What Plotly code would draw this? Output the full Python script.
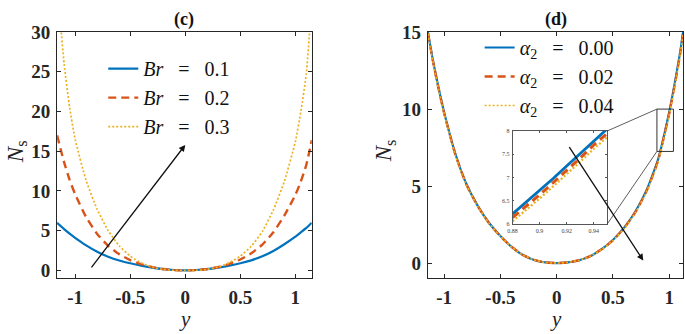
import plotly.graph_objects as go

# ---------------- data: panel (c) ----------------
y_c = [-1.164, -1.1, -1.05, -1.0, -0.9, -0.8, -0.7, -0.6, -0.5, -0.4, -0.3, -0.2, -0.1, 0.0,
       0.1, 0.2, 0.3, 0.4, 0.5, 0.6, 0.7, 0.8, 0.9, 1.0, 1.05, 1.1, 1.149]
ns_br01 = [6.0, 5.2, 4.62, 4.1, 3.15, 2.35, 1.72, 1.25, 0.9, 0.6, 0.36, 0.17, 0.05, 0.0,
           0.05, 0.17, 0.36, 0.6, 0.9, 1.27, 1.78, 2.45, 3.3, 4.25, 4.8, 5.35, 6.0]
ns_br02 = [17.0, 13.6, 11.4, 9.6, 6.7, 4.6, 3.1, 2.05, 1.3, 0.78, 0.42, 0.18, 0.04, 0.0,
           0.04, 0.18, 0.43, 0.82, 1.38, 2.15, 3.25, 4.8, 6.9, 9.5, 11.2, 13.3, 16.4]
ns_br03 = [36.0, 26.0, 20.5, 16.5, 11.3, 7.7, 5.0, 3.1, 1.8, 0.95, 0.42, 0.13, 0.02, 0.0,
           0.02, 0.13, 0.43, 0.97, 1.8, 3.05, 4.9, 7.6, 11.2, 16.2, 20.0, 24.8, 34.0]
labels_c = ["<i>Br</i>\u2002\u2005=\u2002\u20050.1", "<i>Br</i>\u2002\u2005=\u2002\u20050.2",
            "<i>Br</i>\u2002\u2005=\u2002\u20050.3"]

# ---------------- data: panel (d) ----------------
y_d = [-1.144, -1.1, -1.05, -1.0, -0.9, -0.8, -0.7, -0.6, -0.5, -0.4, -0.3, -0.2, -0.1, 0.0,
       0.1, 0.2, 0.3, 0.4, 0.5, 0.6, 0.7, 0.8, 0.9, 1.0, 1.05, 1.1, 1.123]
ns_a000 = [15.0, 13.2, 11.4, 9.8, 7.1, 5.1, 3.7, 2.6, 1.75, 1.05, 0.52, 0.2, 0.04, 0.0,
           0.04, 0.18, 0.45, 0.9, 1.5, 2.3, 3.35, 4.75, 6.7, 9.8, 11.7, 13.8, 15.0]
ns_a002 = [14.95, 13.15, 11.35, 9.75, 7.05, 5.07, 3.68, 2.59, 1.74, 1.05, 0.52, 0.2, 0.04, 0.0,
           0.04, 0.18, 0.45, 0.89, 1.48, 2.27, 3.31, 4.69, 6.62, 9.7, 11.6, 13.7, 14.9]
ns_a004 = [14.9, 13.1, 11.3, 9.7, 7.0, 5.04, 3.66, 2.58, 1.73, 1.04, 0.52, 0.2, 0.04, 0.0,
           0.04, 0.18, 0.44, 0.88, 1.46, 2.24, 3.27, 4.63, 6.54, 9.6, 11.5, 13.6, 14.8]
labels_d = ["<i>α</i><sub>2</sub>\u2002\u2005=\u2002\u20050.00",
            "<i>α</i><sub>2</sub>\u2002\u2005=\u2002\u20050.02",
            "<i>α</i><sub>2</sub>\u2002\u2005=\u2002\u20050.04"]

# inset (zoom) data
y_in = [0.88, 0.89, 0.90, 0.91, 0.92, 0.93, 0.94, 0.95]
in_a000 = [6.22, 6.47, 6.72, 6.98, 7.25, 7.52, 7.8, 8.05]
in_a002 = [6.14, 6.38, 6.63, 6.89, 7.15, 7.42, 7.7, 7.95]
in_a004 = [6.06, 6.30, 6.55, 6.81, 7.07, 7.34, 7.62, 7.87]

x_ticks = [-1, -0.5, 0, 0.5, 1]
x_ticktext = ["-1", "-0.5", "0", "0.5", "1"]

colors = ["#0072BD", "#D95319", "#EDB120"]
dashes = ["solid", "8px,5px", "2px,2px"]
widths = [2.2, 2.4, 1.7]

fig = go.Figure()

for ys, lab, c, d, w in zip([ns_br01, ns_br02, ns_br03], labels_c, colors, dashes, widths):
    fig.add_trace(go.Scatter(x=y_c, y=ys, mode="lines", name=lab,
                             line=dict(color=c, dash=d, width=w, shape="spline", smoothing=0.5),
                             xaxis="x", yaxis="y", legend="legend"))

for ys, lab, c, d, w in zip([ns_a000, ns_a002, ns_a004], labels_d, colors, dashes, widths):
    fig.add_trace(go.Scatter(x=y_d, y=ys, mode="lines", name=lab,
                             line=dict(color=c, dash=d, width=w, shape="spline", smoothing=0.5),
                             xaxis="x2", yaxis="y2", legend="legend2"))

for ys, c, d, w in zip([in_a000, in_a002, in_a004], colors, dashes, widths):
    fig.add_trace(go.Scatter(x=y_in, y=ys, mode="lines", showlegend=False,
                             line=dict(color=c, dash=d, width=w + 0.6),
                             xaxis="x3", yaxis="y3"))

axcol = "#262626"
tickfont = dict(family="Liberation Serif", size=19, color=axcol, weight="bold")
common = dict(showline=True, linecolor=axcol, linewidth=1, mirror="ticks", ticks="inside",
              ticklen=4, tickcolor=axcol, showgrid=False, zeroline=False, tickfont=tickfont)
inset_common = dict(showline=True, linecolor="#555555", linewidth=0.8, mirror="ticks",
                    ticks="inside", ticklen=2, tickcolor="#555555", showgrid=False,
                    zeroline=False, tickfont=dict(family="Liberation Serif", size=6, color="#444444"),
                    ticklabelstandoff=1)

fig.update_layout(
    width=685, height=334,
    margin=dict(l=0, r=0, t=0, b=0),
    paper_bgcolor="white", plot_bgcolor="white",
    xaxis=dict(domain=[0.0766, 0.4511], range=[-1.164, 1.149], tickvals=x_ticks,
               ticktext=x_ticktext, anchor="y", ticklabelstandoff=2, **common),
    yaxis=dict(domain=[0.1647, 0.9311], range=[-0.97, 30], tickvals=[0, 5, 10, 15, 20, 25, 30],
               anchor="x", ticklabelstandoff=2, **common),
    xaxis2=dict(domain=[0.6219, 0.9971], range=[-1.144, 1.123], tickvals=x_ticks,
                ticktext=x_ticktext, anchor="y2", ticklabelstandoff=2, **common),
    yaxis2=dict(domain=[0.1647, 0.9311], range=[-0.98, 15], tickvals=[0, 5, 10, 15],
                anchor="x2", ticklabelstandoff=2, **common),
    xaxis3=dict(domain=[0.7464, 0.8857], range=[0.88, 0.95], tickvals=[0.88, 0.9, 0.92, 0.94],
                anchor="y3", **inset_common),
    yaxis3=dict(domain=[0.3332, 0.6228], range=[6, 8], tickvals=[6, 6.5, 7, 7.5, 8],
                anchor="x3", **inset_common),
    legend=dict(x=0.1445, y=0.878, xanchor="left", yanchor="top", bgcolor="rgba(0,0,0,0)",
                font=dict(family="Liberation Serif", size=20, color="#111111"),
                itemwidth=30, tracegroupgap=0),
    legend2=dict(x=0.698, y=0.944, xanchor="left", yanchor="top", bgcolor="rgba(0,0,0,0)",
                 font=dict(family="Liberation Serif", size=20, color="#111111"),
                 itemwidth=30, tracegroupgap=0),
    showlegend=True,
)

serif = "Liberation Serif"
ctr = dict(xref="paper", yref="paper", showarrow=False, xanchor="center", yanchor="middle")
ann = [
    dict(text="<b>(c)</b>", x=0.263, y=0.97, font=dict(family=serif, size=18, color="#111111"), **ctr),
    dict(text="<b>(d)</b>", x=0.81, y=0.97, font=dict(family=serif, size=18, color="#111111"), **ctr),
    dict(text="<i>N</i><sub>s</sub>", x=0.0175, y=0.56, textangle=-90,
         font=dict(family=serif, size=23, color="#222222"), **ctr),
    dict(text="<i>N</i><sub>s</sub>", x=0.559, y=0.56, textangle=-90,
         font=dict(family=serif, size=23, color="#222222"), **ctr),
    dict(text="<i>y</i>", x=0.265, y=0.036, font=dict(family=serif, size=21, color="#222222"), **ctr),
    dict(text="<i>y</i>", x=0.81, y=0.036, font=dict(family=serif, size=21, color="#222222"), **ctr),
    # arrows
    dict(x=0.0, y=15.8, ax=-0.862, ay=0.2, xref="x", yref="y", axref="x", ayref="y",
         showarrow=True, arrowhead=2, arrowsize=1, arrowwidth=1.3, arrowcolor="#111111", text=""),
    dict(x=0.77, y=0.16, ax=0.104, ay=7.63, xref="x2", yref="y2", axref="x2", ayref="y2",
         showarrow=True, arrowhead=2, arrowsize=1, arrowwidth=1.3, arrowcolor="#111111", text=""),
]
fig.update_layout(annotations=ann)

shapes = [
    dict(type="rect", xref="x2", yref="y2", x0=0.891, x1=1.038, y0=7.25, y1=10.0,
         line=dict(color="#333333", width=1)),
    dict(type="line", xref="x2", yref="y2", x0=0.45, y0=8.58, x1=0.891, y1=10.0,
         line=dict(color="#333333", width=0.8)),
    dict(type="line", xref="x2", yref="y2", x0=0.45, y0=2.54, x1=0.891, y1=7.25,
         line=dict(color="#333333", width=0.8)),
]
fig.update_layout(shapes=shapes)

fig.write_html("out.html", config={"displayModeBar": False},
               post_script="document.body.style.margin='0px';")
